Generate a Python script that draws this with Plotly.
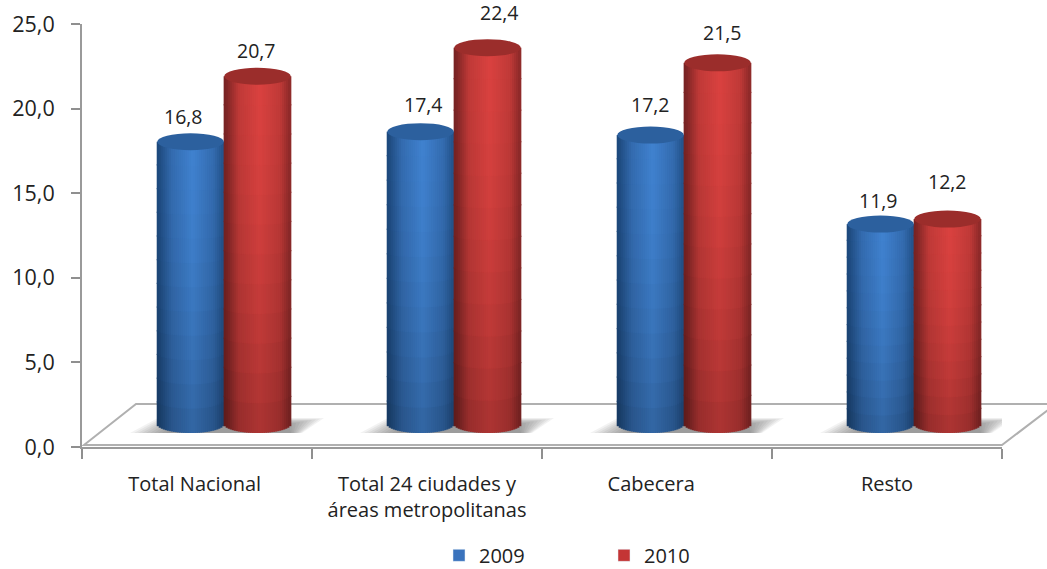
import math
import plotly.graph_objects as go

categories = ["Total Nacional", "Total 24 ciudades y<br>áreas metropolitanas", "Cabecera", "Resto"]
series_names = ["2009", "2010"]
values_2009 = [16.8, 17.4, 17.2, 11.9]
values_2010 = [20.7, 22.4, 21.5, 12.2]
y_ticks = [0, 5, 10, 15, 20, 25]

# label nudges in px (the reference places them by hand)
label_dx_2009 = [-7, 3, 0, -2]
label_dy_2009 = [25, 27, 31, 24]
label_dx_2010 = [-1, 12, 5, 0]
label_dy_2010 = [26, 35, 30, 38]

W, H = 1047, 569
L, R, T, B = 82, 45, 24, 122
PXX = (W - L - R) / 4.0
BASE_PX, PXY = 424.0, 16.8
y2_range = [(BASE_PX - (H - B)) / PXY, (BASE_PX - T) / PXY]
BLUE_OFF, RED_OFF, CYL_W = 0.472, 0.763, 66.5 / PXX
RY_TOP, RY_BOT = 8.5 / PXY, 9.0 / PXY
N_STRIP, N_SEG = 33, 12

def mix(a, b, f):
    return tuple(a[i] + (b[i] - a[i]) * f for i in range(3))

def shade(t, v, pal):
    a = abs(t - 0.08)
    if a < 0.62:
        c = mix(pal[0], pal[1], a / 0.62)
    else:
        c = mix(pal[1], pal[2], min(1, (a - 0.62) / 0.4))
    f = 1 - 0.22 * v ** 1.8
    return "rgb(%d,%d,%d)" % tuple(x * f for x in c)

PAL_B = [(64, 130, 208), (52, 108, 176), (30, 74, 126)]
PAL_R = [(218, 66, 64), (192, 58, 56), (122, 36, 36)]

def cylinder(vals, off, pal, name):
    xs, ys, bases, cols, widths = [], [], [], [], []
    sw = CYL_W / N_STRIP
    ov = 1.2 / PXY
    for i, val in enumerate(vals):
        cx = i + off
        for s in range(N_STRIP):
            t = -1 + (2 * s + 1) / N_STRIP
            low = -RY_BOT * math.sqrt(max(0, 1 - t * t))
            for m in range(N_SEG):
                a = low + (val - low) * m / N_SEG
                b = low + (val - low) * (m + 1) / N_SEG
                if m < N_SEG - 1:
                    b += ov
                xs.append(cx + t * CYL_W / 2)
                ys.append(b - a)
                bases.append(a)
                cols.append(shade(t, 1 - (m + 0.5) / N_SEG, pal))
                widths.append(sw * 1.6)
    return go.Bar(x=xs, y=ys, base=bases, width=widths, yaxis="y2", name=name,
                  marker=dict(color=cols, line=dict(width=0)), showlegend=False,
                  hoverinfo="skip")

fig = go.Figure()
# invisible trace that gives the left axis its scale
fig.add_trace(go.Scatter(x=[0], y=[0], mode="markers", marker=dict(opacity=0), showlegend=False, hoverinfo="skip"))
fig.add_trace(cylinder(values_2009, BLUE_OFF, PAL_B, series_names[0]))
fig.add_trace(cylinder(values_2010, RED_OFF, PAL_R, series_names[1]))
fig.add_trace(go.Bar(x=[None], y=[None], name=series_names[0], marker_color="#3a73bd", yaxis="y2"))
fig.add_trace(go.Bar(x=[None], y=[None], name=series_names[1], marker_color="#c43535", yaxis="y2"))

def px(x): return (x - L) / (W - L - R)
def py(y): return (H - B - y) / (H - B - T)

shapes = []
# floor of the 3-D box
shapes.append(dict(type="path", xref="paper", yref="paper", layer="below",
    path="M %f,%f L %f,%f L %f,%f L %f,%f Z" % (px(84), py(445), px(136), py(404), px(1056), py(404), px(1002), py(445)),
    fillcolor="white", line=dict(color="#b0b0b0", width=2)))
# soft floor shadows
for i in range(4):
    gc = i + (BLUE_OFF + RED_OFF) / 2
    for k in range(10):
        ins = k * 4.0
        l0, r0 = -94 + ins, 78 - ins * 0.3
        l1, r1 = -66 + ins * .5, 100 - ins
        yb = -9 / PXY
        yt = (6.0 - k * 0.7) / PXY
        shapes.append(dict(type="path", xref="x", yref="y2", layer="below",
            path="M %f,%f L %f,%f L %f,%f L %f,%f Z" % (
                gc + l0 / PXX, yb, gc + l1 / PXX, yt, gc + r1 / PXX, yt, gc + r0 / PXX, yb),
            fillcolor="rgba(70,70,70,0.07)", line=dict(width=0)))
# cylinder caps
for vals, off, col in ((values_2009, BLUE_OFF, "#2c609e"), (values_2010, RED_OFF, "#9b2d2b")):
    for i, val in enumerate(vals):
        cx = i + off
        shapes.append(dict(type="circle", xref="x", yref="y2", layer="above",
            x0=cx - CYL_W / 2, x1=cx + CYL_W / 2, y0=val - RY_TOP, y1=val + RY_TOP,
            fillcolor=col, line=dict(width=0)))

annotations = []
FONT = "Open Sans, sans-serif"
TXT = "#222222"
for vals, off, dxs, dys in ((values_2009, BLUE_OFF, label_dx_2009, label_dy_2009),
                            (values_2010, RED_OFF, label_dx_2010, label_dy_2010)):
    for i, val in enumerate(vals):
        annotations.append(dict(x=i + off, y=val, xref="x", yref="y2", showarrow=False,
            text=("%.1f" % val).replace(".", ","), xshift=dxs[i], yshift=dys[i],
            xanchor="center", yanchor="middle", font=dict(family=FONT, size=19.5, color=TXT)))

fig.update_layout(
    width=W, height=H, autosize=False, margin=dict(l=L, r=R, t=T, b=B, pad=0, autoexpand=False),
    plot_bgcolor="white", paper_bgcolor="white", barmode="overlay", separators=",.",
    font=dict(family=FONT, size=18, color=TXT),
    xaxis=dict(range=[0, 4], tickmode="array", tickvals=[0.49, 1.5, 2.475, 3.5], ticktext=categories,
               ticks="outside", ticklen=18, tickcolor="rgba(0,0,0,0)", showgrid=False, zeroline=False,
               showline=True, linecolor="#9a9a9a", linewidth=2, tickangle=0, automargin=False,
               minor=dict(tickmode="array", tickvals=[0, 1, 2, 3, 4], ticks="outside", ticklen=10,
                          tickcolor="#8f8f8f", tickwidth=1.5, showgrid=False),
               tickfont=dict(family=FONT, size=20, color=TXT)),
    yaxis=dict(range=[0, 25], tickmode="array", tickvals=y_ticks, tickformat=".1f", ticks="outside",
               ticklen=9, tickcolor="#8f8f8f", tickwidth=1.5, showgrid=False, zeroline=False,
               showline=True, linecolor="#9a9a9a", linewidth=2, automargin=False, ticklabelstandoff=12,
               tickfont=dict(family=FONT, size=21.5, color=TXT)),
    yaxis2=dict(range=y2_range, overlaying="y", side="left", visible=False, fixedrange=True),
    legend=dict(orientation="h", x=(439 - L) / (W - L - R), xanchor="left", y=-0.21, yanchor="top",
                entrywidth=120, entrywidthmode="pixels", font=dict(family=FONT, size=20, color=TXT),
                bgcolor="rgba(0,0,0,0)", itemclick=False, itemdoubleclick=False),
    shapes=shapes, annotations=annotations,
)
fig.write_html("out.html", post_script="document.body.style.margin='0';", config={"displayModeBar": False})
